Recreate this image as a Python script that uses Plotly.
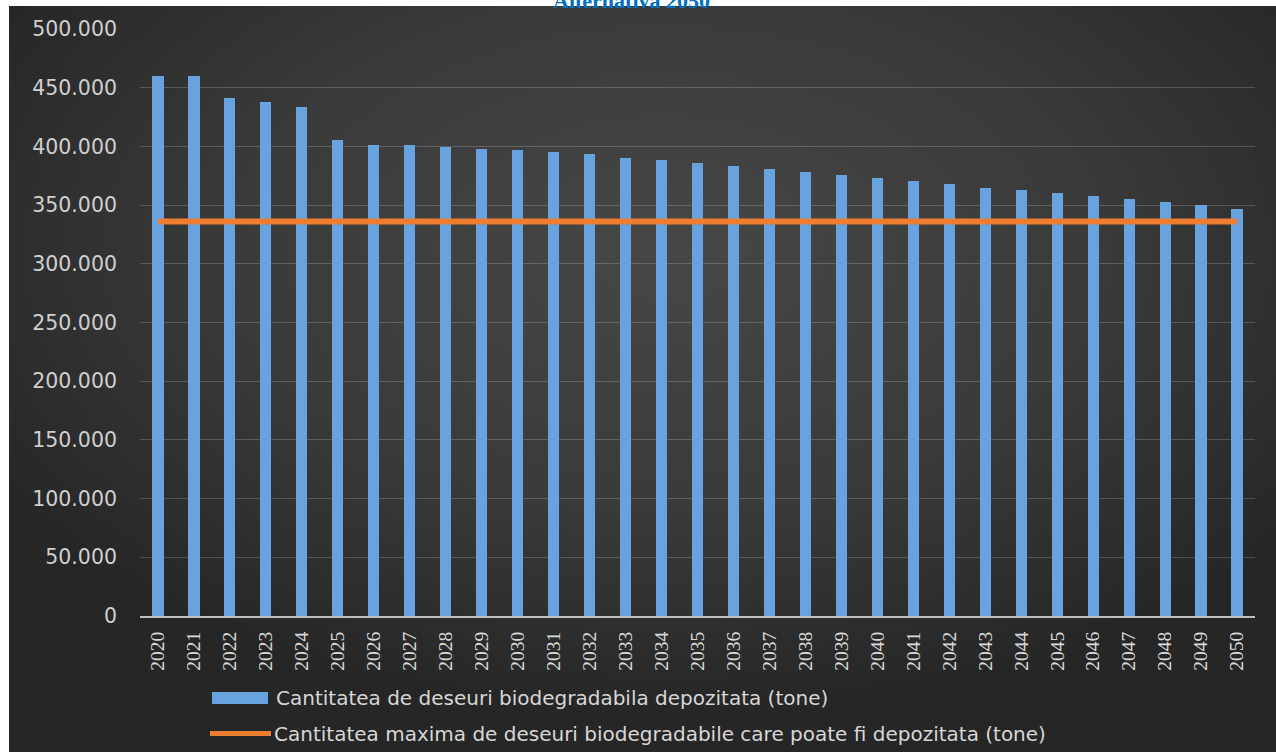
import base64
import plotly.graph_objects as go

years = [str(y) for y in range(2020, 2051)]
deposited = [460000, 460000, 441000, 437800, 433700, 405200, 401600, 400800, 399400, 397600,
             396800, 395600, 393300, 390500, 388200, 385700, 383100, 380500, 378000, 375400,
             372900, 370300, 367700, 364900, 362600, 360000, 357500, 355000, 352400, 349800,
             347000]
max_allowed = [336000, 336000, 336000, 336000, 336000, 336000, 336000, 336000, 336000, 336000,
               336000, 336000, 336000, 336000, 336000, 336000, 336000, 336000, 336000, 336000,
               336000, 336000, 336000, 336000, 336000, 336000, 336000, 336000, 336000, 336000,
               336000]
y_ticks = [0, 50000, 100000, 150000, 200000, 250000, 300000, 350000, 400000, 450000, 500000]
y_tick_text = ["0", "50.000", "100.000", "150.000", "200.000", "250.000", "300.000",
               "350.000", "400.000", "450.000", "500.000"]
title_text = "Alternativa 2050"
legend_names = ["Cantitatea de deseuri biodegradabila depozitata (tone)",
                "Cantitatea maxima de deseuri biodegradabile care poate fi depozitata (tone)"]

W, H = 1276, 752
ML, MR, MT, MB = 140, 21, 29, 136
PW = W - ML - MR
PH = H - MT - MB


def px(x):
    return (x - ML) / PW


def py(y):
    return (H - MB - y) / PH


svg = ('<svg xmlns="http://www.w3.org/2000/svg" width="1267" height="746" viewBox="0 0 1267 746" preserveAspectRatio="none">'
       '<defs><radialGradient id="g" cx="0.52" cy="0.33" r="0.62" gradientUnits="objectBoundingBox">'
       '<stop offset="0" stop-color="#474747"/><stop offset="0.55" stop-color="#3a3a3a"/>'
       '<stop offset="1" stop-color="#262626"/></radialGradient></defs>'
       '<rect width="1267" height="746" fill="url(#g)"/></svg>')
bg_src = "data:image/svg+xml;base64," + base64.b64encode(svg.encode()).decode()

fig = go.Figure()
fig.add_trace(go.Bar(x=years, y=deposited, name=legend_names[0], width=0.31,
                     marker=dict(color="#67A3DE", line=dict(width=0)), showlegend=False))
fig.add_trace(go.Scatter(x=years, y=max_allowed, name=legend_names[1], mode="lines",
                         line=dict(color="#ED7D31", width=6), showlegend=False))

legend_font = dict(family="DejaVu Sans", size=20, color="#d6d6d6")
shapes = [
    dict(type="rect", xref="paper", yref="paper", x0=px(212), x1=px(268), y0=py(692), y1=py(704),
         fillcolor="#67A3DE", line=dict(width=0), layer="above"),
    dict(type="line", xref="paper", yref="paper", x0=px(210), x1=px(271), y0=py(733.5), y1=py(733.5),
         line=dict(color="#ED7D31", width=5), layer="above"),
]
annotations = [
    dict(text=legend_names[0], xref="paper", yref="paper", x=px(274), y=py(698), xanchor="left",
         yanchor="middle", showarrow=False, font=legend_font),
    dict(text=legend_names[1], xref="paper", yref="paper", x=px(272), y=py(734), xanchor="left",
         yanchor="middle", showarrow=False, font=legend_font),
    dict(text="<b>" + title_text + "</b>", xref="paper", yref="paper", x=px(631), y=py(15),
         xanchor="center", yanchor="bottom", showarrow=False,
         font=dict(family="Liberation Serif", size=22, color="#0070C0")),
]

fig.update_layout(
    width=W, height=H,
    margin=dict(l=ML, r=MR, t=MT, b=MB),
    paper_bgcolor="white",
    plot_bgcolor="rgba(0,0,0,0)",
    bargap=0,
    images=[dict(source=bg_src, xref="paper", yref="paper", x=px(9), y=py(6),
                 sizex=px(1276) - px(9), sizey=py(6) - py(752), sizing="stretch",
                 xanchor="left", yanchor="top", layer="below")],
    shapes=shapes,
    annotations=annotations,
    xaxis=dict(type="category", tickangle=-90, showgrid=False, showline=True,
               linecolor="#bfbfbf", linewidth=2, ticks="", ticklabelstandoff=6,
               tickfont=dict(family="Liberation Serif", size=19.5, color="#d9d9d9")),
    yaxis=dict(range=[0, 500000], tickvals=y_ticks, ticktext=y_tick_text, showgrid=True,
               gridcolor="rgba(255,255,255,0.18)", gridwidth=1, zeroline=False,
               showline=False, ticks="", ticklabelstandoff=22,
               tickfont=dict(family="DejaVu Sans", size=20.5, color="#cfcfcf")),
)

fig.write_html("out.html")
